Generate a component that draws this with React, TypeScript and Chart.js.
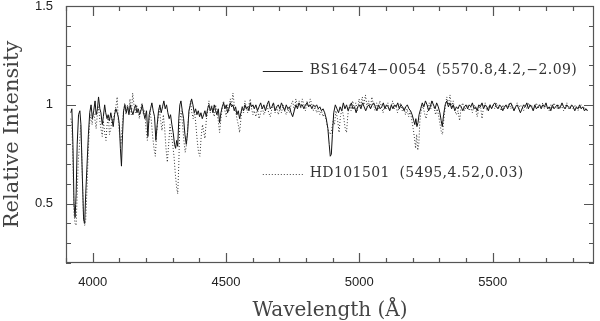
import { useEffect, useRef } from "react";
import { Chart, registerables } from "chart.js";

Chart.register(...registerables);

// BS16474-0054 (solid line)
const solidWave = [
  3918, 3922, 3926, 3930, 3934, 3938, 3942, 3947, 3952, 3956, 3961, 3966, 3970, 3974, 3979, 3984, 3989, 3994, 3999,
  4004, 4009, 4013, 4018, 4022, 4027, 4031, 4036, 4040, 4045, 4049, 4054, 4058, 4063, 4068, 4072, 4077, 4082, 4087,
  4092, 4096, 4100, 4104, 4108, 4112, 4116, 4121, 4126, 4131, 4136, 4141, 4146, 4151, 4156, 4161, 4166, 4171, 4176,
  4181, 4186, 4191, 4196, 4202, 4207, 4212, 4217, 4222, 4227, 4232, 4237, 4242, 4247, 4252, 4257, 4262, 4267, 4272,
  4277, 4282, 4287, 4292, 4297, 4302, 4307, 4311, 4315, 4319, 4323, 4327, 4331, 4336, 4341, 4346, 4351, 4356, 4361,
  4366, 4371, 4376, 4381, 4386, 4391, 4396, 4401, 4406, 4411, 4416, 4421, 4426, 4431, 4436, 4441, 4446, 4451, 4456,
  4461, 4466, 4471, 4476, 4481, 4486, 4491, 4496, 4501, 4506, 4511, 4516, 4521, 4526, 4531, 4536, 4541, 4546, 4551,
  4556, 4561, 4566, 4571, 4576, 4581, 4586, 4591, 4596, 4601, 4606, 4612, 4618, 4624, 4630, 4636, 4642, 4648, 4654,
  4660, 4666, 4672, 4678, 4684, 4690, 4696, 4702, 4708, 4714, 4720, 4726, 4732, 4738, 4744, 4750, 4756, 4762, 4768,
  4774, 4780, 4786, 4792, 4798, 4804, 4810, 4816, 4822, 4828, 4834, 4840, 4846, 4852, 4858, 4864, 4870, 4876, 4882,
  4887, 4891, 4895, 4899, 4904, 4910, 4916, 4922, 4928, 4934, 4940, 4946, 4952, 4958, 4964, 4970, 4976, 4982, 4988,
  4994, 5000, 5006, 5012, 5018, 5024, 5030, 5036, 5042, 5048, 5054, 5060, 5066, 5072, 5078, 5084, 5090, 5096, 5102,
  5108, 5114, 5120, 5126, 5132, 5138, 5144, 5150, 5156, 5162, 5168, 5174, 5180, 5186, 5192, 5198, 5204, 5208, 5212,
  5216, 5220, 5224, 5230, 5236, 5242, 5248, 5254, 5260, 5266, 5272, 5278, 5284, 5290, 5296, 5302, 5307, 5311, 5316,
  5322, 5328, 5334, 5340, 5346, 5352, 5358, 5364, 5370, 5376, 5382, 5388, 5394, 5400, 5406, 5412, 5418, 5424, 5430,
  5436, 5442, 5448, 5454, 5460, 5466, 5472, 5478, 5484, 5490, 5496, 5502, 5508, 5514, 5520, 5526, 5532, 5538, 5544,
  5550, 5556, 5562, 5568, 5574, 5580, 5586, 5592, 5598, 5604, 5610, 5616, 5622, 5628, 5634, 5640, 5646, 5652, 5658,
  5664, 5670, 5676, 5682, 5688, 5694, 5700, 5706, 5712, 5718, 5724, 5730, 5736, 5742, 5748, 5754, 5760, 5766, 5772,
  5778, 5784, 5790, 5796, 5802, 5808, 5814, 5820, 5826, 5832, 5838, 5844, 5850, 5856,
];
const solidFlux = [
  0.96, 0.98, 0.8, 0.5, 0.43, 0.55, 0.8, 0.95, 0.97, 0.9, 0.65, 0.42, 0.4, 0.55, 0.7, 0.85, 0.96, 1.0, 0.93,
  0.97, 1.02, 0.95, 0.98, 1.04, 0.98, 0.96, 0.9, 0.94, 1.0, 0.96, 0.93, 0.95, 0.92, 0.96, 0.93, 0.89, 0.95, 0.98,
  0.96, 0.94, 0.9, 0.78, 0.69, 0.85, 0.97, 1.0, 0.96, 0.99, 0.95, 1.0, 0.97, 0.95, 0.98, 1.0, 0.96, 0.98, 0.95,
  0.97, 1.0, 0.96, 0.93, 0.97, 0.84, 0.95, 0.98, 1.01, 0.97, 0.94, 0.82, 0.9, 0.97, 1.0, 0.96, 0.99, 1.02, 0.98,
  1.0, 0.96, 0.93, 0.95, 0.9, 0.86, 0.8, 0.78, 0.82, 0.79, 0.93, 1.0, 1.02, 0.97, 0.93, 0.85, 0.8, 0.86, 0.97,
  1.0, 1.03, 1.0, 0.96, 0.98, 0.95, 0.97, 0.94, 0.96, 0.93, 0.95, 0.97, 0.94, 0.98, 1.0, 0.97, 0.99, 0.96, 1.0,
  0.97, 0.95, 0.98, 0.91, 0.96, 0.99, 1.01, 0.98, 1.0, 0.96, 0.98, 1.01, 0.99, 1.0, 0.97, 0.99, 0.95, 0.97, 0.93,
  0.96, 0.99, 0.97, 1.0, 0.98, 0.99, 0.97, 1.01, 0.99, 1.0, 0.98, 1.0, 0.97, 0.99, 1.01, 0.98, 1.0, 0.97, 1.0,
  1.02, 0.98, 0.99, 1.01, 0.97, 0.99, 1.0, 0.98, 1.01, 0.99, 0.97, 1.0, 0.98, 0.99, 0.96, 0.94, 0.97, 1.0, 0.98,
  1.01, 0.99, 1.0, 0.98, 1.0, 1.01, 0.99, 1.0, 0.98, 1.0, 0.99, 1.0, 0.98, 0.99, 0.97, 0.98, 0.96, 0.93, 0.88,
  0.8, 0.74, 0.75, 0.85, 0.96, 1.0, 0.98, 0.96, 0.99, 0.97, 1.01, 0.98, 1.0, 0.97, 0.99, 1.01, 0.98, 0.99, 0.96,
  0.99, 1.0, 0.98, 1.01, 0.99, 0.97, 0.99, 1.0, 0.98, 1.0, 1.01, 0.99, 0.97, 1.0, 0.98, 0.99, 1.01, 0.98, 1.0,
  0.99, 0.97, 1.0, 0.98, 1.0, 0.99, 1.01, 0.98, 1.0, 0.99, 0.97, 0.99, 1.0, 0.98, 0.97, 0.95, 0.92, 0.9, 0.93,
  0.89, 0.91, 0.95, 0.98, 1.01, 0.99, 1.02, 1.0, 0.97, 0.99, 1.02, 1.0, 0.98, 1.01, 0.99, 0.96, 0.92, 0.89, 0.95,
  1.0, 1.02, 0.99, 1.01, 0.98, 1.0, 0.97, 0.99, 0.98, 1.0, 0.99, 0.97, 0.99, 1.0, 0.98, 1.0, 0.99, 1.01, 0.98,
  0.99, 0.97, 1.0, 0.99, 1.01, 0.98, 1.0, 0.99, 0.97, 1.0, 0.98, 1.0, 1.01, 0.99, 0.98, 1.0, 0.99, 0.97, 0.99,
  1.0, 0.98, 1.0, 1.01, 0.99, 0.97, 0.99, 1.0, 0.98, 0.96, 0.98, 1.0, 0.99, 1.01, 0.98, 1.0, 0.99, 0.97, 1.0,
  0.98, 0.99, 1.0, 0.98, 1.0, 0.99, 1.01, 0.98, 0.99, 0.97, 1.0, 0.98, 0.99, 1.0, 0.98, 0.99, 1.01, 0.99, 0.98,
  1.0, 0.99, 0.98, 1.0, 0.99, 0.97, 0.99, 0.98, 1.0, 0.98, 0.99, 0.97, 0.98, 0.97,
];

// HD101501 (dotted line)
const dottedWave = [
  3918, 3922, 3926, 3930, 3934, 3938, 3942, 3946, 3950, 3955, 3958, 3962, 3966, 3970, 3974, 3978, 3983, 3988, 3993,
  3998, 4003, 4008, 4013, 4018, 4022, 4027, 4031, 4036, 4040, 4045, 4050, 4054, 4059, 4063, 4068, 4073, 4077, 4082,
  4087, 4092, 4096, 4101, 4106, 4110, 4115, 4120, 4125, 4130, 4135, 4140, 4145, 4150, 4155, 4160, 4165, 4170, 4175,
  4180, 4185, 4190, 4195, 4200, 4205, 4210, 4215, 4220, 4225, 4230, 4235, 4240, 4245, 4250, 4255, 4260, 4265, 4270,
  4275, 4280, 4285, 4290, 4295, 4300, 4305, 4310, 4315, 4319, 4323, 4327, 4332, 4337, 4342, 4347, 4352, 4357, 4362,
  4367, 4372, 4377, 4382, 4387, 4392, 4397, 4402, 4407, 4412, 4417, 4421, 4426, 4431, 4436, 4441, 4446, 4451, 4456,
  4461, 4466, 4471, 4476, 4481, 4486, 4491, 4496, 4501, 4506, 4511, 4516, 4521, 4526, 4531, 4536, 4541, 4546, 4551,
  4556, 4561, 4566, 4571, 4576, 4581, 4586, 4591, 4596, 4601, 4606, 4612, 4618, 4624, 4630, 4636, 4642, 4648, 4654,
  4660, 4666, 4672, 4678, 4684, 4690, 4696, 4702, 4708, 4714, 4720, 4726, 4732, 4738, 4744, 4750, 4756, 4762, 4768,
  4774, 4780, 4786, 4792, 4798, 4804, 4810, 4816, 4822, 4828, 4834, 4840, 4846, 4852, 4858, 4864, 4870, 4876, 4882,
  4887, 4892, 4897, 4902, 4907, 4912, 4918, 4924, 4929, 4935, 4941, 4947, 4952, 4957, 4963, 4969, 4975, 4981, 4987,
  4993, 4999, 5005, 5011, 5017, 5023, 5029, 5035, 5041, 5047, 5053, 5059, 5065, 5071, 5077, 5083, 5089, 5095, 5101,
  5107, 5113, 5119, 5125, 5131, 5137, 5143, 5149, 5155, 5161, 5167, 5173, 5179, 5185, 5191, 5197, 5202, 5207, 5211,
  5215, 5219, 5223, 5227, 5232, 5238, 5244, 5250, 5256, 5262, 5268, 5274, 5280, 5286, 5292, 5298, 5303, 5308, 5312,
  5317, 5322, 5328, 5334, 5340, 5346, 5352, 5358, 5364, 5370, 5376, 5382, 5388, 5394, 5400, 5406, 5412, 5418, 5424,
  5430, 5436, 5442, 5448, 5454, 5460, 5466, 5472, 5478, 5484, 5490, 5496, 5502, 5508, 5514, 5520, 5526, 5532, 5538,
  5544, 5550, 5556, 5562, 5568, 5574, 5580, 5586, 5592, 5598, 5604, 5610, 5616, 5622, 5628, 5634, 5640, 5646, 5652,
  5658, 5664, 5670, 5676, 5682, 5688, 5694, 5700, 5706, 5712, 5718, 5724, 5730, 5736, 5742, 5748, 5754, 5760, 5766,
  5772, 5778, 5784, 5790, 5796, 5802, 5808, 5814, 5820, 5826, 5832, 5838, 5844, 5850, 5856,
];
const dottedFlux = [
  0.93, 0.9, 0.72, 0.45, 0.4, 0.39, 0.55, 0.72, 0.78, 0.9, 0.8, 0.6, 0.42, 0.39, 0.42, 0.55, 0.75, 0.9, 0.95,
  0.9, 0.97, 0.93, 0.88, 0.96, 0.99, 0.92, 0.88, 0.84, 0.92, 0.86, 0.82, 0.9, 0.94, 0.85, 0.88, 0.93, 0.9, 0.96,
  0.99, 1.04, 0.92, 0.85, 0.8, 0.88, 0.96, 1.01, 0.95, 1.0, 0.97, 1.03, 0.95, 1.06, 1.0, 0.96, 1.0, 0.97, 0.93,
  0.98, 1.01, 0.95, 0.97, 0.88, 0.82, 0.9, 0.97, 0.92, 0.84, 0.78, 0.74, 0.86, 0.93, 0.98, 0.92, 0.87, 0.95, 0.88,
  0.78, 0.71, 0.8, 0.9, 0.85, 0.8, 0.74, 0.65, 0.58, 0.55, 0.7, 0.92, 0.97, 0.9, 0.82, 0.76, 0.8, 0.9, 0.97,
  1.02, 0.96, 0.93, 0.97, 0.9, 0.82, 0.76, 0.74, 0.84, 0.9, 0.86, 0.83, 0.92, 0.97, 1.02, 0.96, 1.0, 0.97, 0.94,
  1.0, 0.96, 0.92, 0.86, 0.93, 0.99, 1.02, 0.97, 0.94, 1.0, 0.97, 1.03, 1.0, 1.06, 1.0, 0.97, 0.93, 0.9, 0.86,
  0.93, 0.99, 0.96, 1.02, 0.99, 0.96, 1.0, 1.03, 0.98, 0.95, 0.97, 0.94, 0.98, 0.93, 0.96, 0.99, 0.95, 0.97, 1.0,
  0.96, 0.94, 0.98, 1.01, 0.96, 0.99, 0.95, 0.98, 0.96, 1.0, 0.97, 0.95, 0.98, 0.96, 1.0, 1.02, 0.97, 1.03, 0.99,
  1.02, 0.98, 1.03, 1.0, 0.97, 1.02, 0.99, 1.03, 1.0, 0.97, 0.99, 0.96, 0.98, 0.95, 0.97, 0.94, 0.96, 0.92, 0.88,
  0.86, 0.85, 0.88, 0.92, 0.9, 0.97, 0.93, 0.86, 0.94, 0.98, 0.94, 0.88, 0.86, 0.95, 1.0, 0.97, 1.02, 0.98, 1.01,
  0.97, 1.03, 0.99, 1.04, 1.0, 1.05, 0.99, 1.02, 0.98, 1.04, 1.0, 0.97, 1.01, 0.98, 1.02, 0.99, 0.96, 1.0, 0.98,
  1.01, 0.97, 0.99, 1.02, 0.98, 1.0, 0.96, 0.99, 1.01, 0.97, 0.99, 0.95, 0.98, 0.94, 0.97, 0.92, 0.88, 0.83, 0.78,
  0.85, 0.77, 0.8, 0.92, 0.97, 1.0, 0.96, 0.93, 0.97, 1.01, 0.98, 1.02, 0.99, 0.95, 0.98, 0.94, 0.9, 0.86, 0.85,
  0.93, 0.99, 1.04, 1.0, 1.05, 0.99, 1.02, 0.97, 0.95, 0.97, 0.92, 0.99, 1.01, 0.97, 0.99, 1.0, 0.97, 0.99, 0.96,
  1.0, 0.98, 0.94, 0.98, 1.0, 0.93, 0.99, 1.01, 0.97, 0.99, 1.0, 0.98, 1.0, 0.98, 1.01, 0.98, 0.99, 0.97, 1.0,
  0.98, 1.0, 0.99, 1.01, 0.98, 1.0, 0.97, 0.99, 1.01, 0.98, 1.0, 0.99, 0.97, 1.0, 0.98, 1.01, 0.99, 1.0, 0.97,
  0.99, 1.01, 0.98, 1.0, 0.99, 1.01, 0.98, 1.0, 0.99, 0.97, 1.0, 0.98, 1.01, 0.99, 0.98, 1.0, 0.98, 1.0, 0.97,
  0.99, 1.01, 0.98, 0.99, 1.0, 0.98, 1.0, 0.99, 0.97, 0.99, 1.0, 0.98, 0.99, 0.97, 0.98,
];

const xLabelTicks = [4000, 4500, 5000, 5500];
const yLabelTicks = [0.5, 1, 1.5];
const xTitle = "Wavelength (Å)";
const yTitle = "Relative Intensity";
const legendSolid = "BS16474\u22120054  (5570.8,4.2,\u22122.09)";
const legendDotted = "HD101501  (5495,4.52,0.03)";

const serif = '"DejaVu Serif", serif';
const sans = '"Liberation Sans", Arial, sans-serif';

const framePlugin = {
  id: "frame",
  afterDatasetsDraw(chart: any) {
    const { ctx, chartArea } = chart;
    const { left, right, top, bottom } = chartArea;
    const xs = chart.scales.x;
    const ys = chart.scales.y;
    ctx.save();
    ctx.strokeStyle = "#555";
    ctx.lineWidth = 1.2;
    ctx.strokeRect(left + 0.5, top + 0.5, right - left - 1, bottom - top - 1);
    ctx.beginPath();
    xs.ticks.forEach((t: any) => {
      const px = Math.round(xs.getPixelForValue(t.value)) + 0.5;
      const major = xLabelTicks.includes(t.value);
      const len = major ? 10 : 5;
      ctx.moveTo(px, bottom);
      ctx.lineTo(px, bottom - len);
      ctx.moveTo(px, top);
      ctx.lineTo(px, top + len);
    });
    ys.ticks.forEach((t: any) => {
      const py = Math.round(ys.getPixelForValue(t.value)) + 0.5;
      const major = yLabelTicks.some((v) => Math.abs(v - t.value) < 1e-6);
      const len = major ? 10 : 5;
      ctx.moveTo(left, py);
      ctx.lineTo(left + len, py);
      ctx.moveTo(right, py);
      ctx.lineTo(right - len, py);
    });
    ctx.stroke();

    // in-plot legend
    const drawEntry = (y: number, text: string, dash: number[], color: string) => {
      const x0 = xs.getPixelForValue(4638);
      const x1 = xs.getPixelForValue(4788);
      const py = Math.round(ys.getPixelForValue(y)) + 0.5;
      ctx.beginPath();
      ctx.setLineDash(dash);
      ctx.strokeStyle = color;
      ctx.lineWidth = 1;
      ctx.moveTo(x0, py);
      ctx.lineTo(x1, py);
      ctx.stroke();
      ctx.setLineDash([]);
      ctx.fillStyle = "#333";
      ctx.font = `14px ${serif}`;
      (ctx as any).letterSpacing = "0.4px";
      ctx.textBaseline = "middle";
      ctx.textAlign = "left";
      ctx.fillText(text, xs.getPixelForValue(4814), py - 1);
      (ctx as any).letterSpacing = "0px";
    };
    drawEntry(1.17, legendSolid, [], "#222");
    drawEntry(0.65, legendDotted, [1, 2], "#444");
    ctx.restore();
  },
};

export default function App() {
  const ref = useRef<HTMLCanvasElement | null>(null);
  useEffect(() => {
    if (!ref.current) return;
    const chart = new Chart(ref.current, {
      type: "line",
      data: {
        datasets: [
          {
            label: "HD101501",
            data: dottedWave.map((w, i) => ({ x: w, y: dottedFlux[i] })),
            borderColor: "#333",
            borderWidth: 1,
            borderDash: [1, 2],
            pointRadius: 0,
            tension: 0,
          },
          {
            label: "BS16474-0054",
            data: solidWave.map((w, i) => ({ x: w, y: solidFlux[i] })),
            borderColor: "#111",
            borderWidth: 1,
            pointRadius: 0,
            tension: 0,
          },
        ],
      },
      options: {
        animation: false,
        responsive: false,
        layout: { padding: { top: 6, right: 6, left: 0, bottom: 0 } },
        plugins: { legend: { display: false }, tooltip: { enabled: false } },
        scales: {
          x: {
            type: "linear",
            min: 3900,
            max: 5880,
            grid: { display: false, drawTicks: false },
            border: { display: false },
            afterFit: (s: any) => {
              s.height = 58;
              s.paddingLeft = 0;
              s.paddingRight = 0;
            },
            ticks: {
              stepSize: 100,
              includeBounds: false,
              autoSkip: false,
              maxRotation: 0,
              padding: 12,
              color: "#222",
              font: { family: sans, size: 13 },
              callback: (v: any) => (xLabelTicks.includes(Number(v)) ? String(v) : ""),
            },
            title: {
              display: true,
              text: xTitle,
              color: "#444",
              font: { family: serif, size: 20, lineHeight: 1 },
              padding: 0,
            },
          },
          y: {
            type: "linear",
            min: 0.2,
            max: 1.5,
            grid: { display: false, drawTicks: false },
            border: { display: false },
            afterFit: (s: any) => {
              s.width = 66;
              s.paddingTop = 0;
              s.paddingBottom = 0;
            },
            ticks: {
              stepSize: 0.1,
              includeBounds: false,
              autoSkip: false,
              padding: 13,
              color: "#222",
              font: { family: sans, size: 13 },
              callback: (v: any) => {
                const n = Number(v);
                const hit = yLabelTicks.find((t) => Math.abs(t - n) < 1e-6);
                return hit === undefined ? "" : String(hit);
              },
            },
            title: {
              display: true,
              text: yTitle,
              color: "#444",
              font: { family: serif, size: 21, lineHeight: 1.2 },
              padding: 0,
            },
          },
        },
      },
      plugins: [framePlugin],
    });
    return () => chart.destroy();
  }, []);
  return (
    <div style={{ position: "fixed", left: 0, top: 0, width: 600, height: 321, background: "#fff" }}>
      <canvas ref={ref} width={600} height={321} style={{ display: "block" }} />
    </div>
  );
}
